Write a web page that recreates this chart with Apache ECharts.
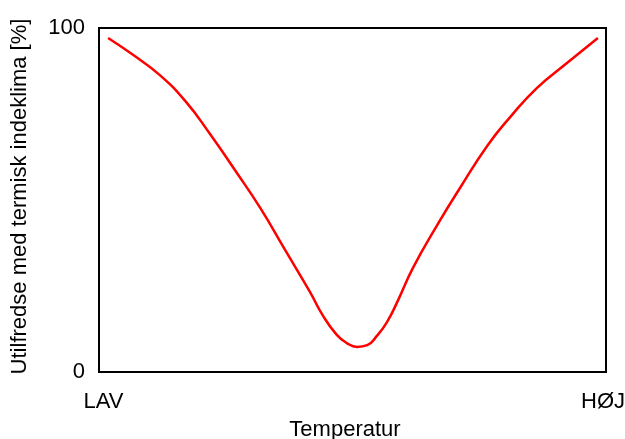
<!DOCTYPE html>
<html>
<head>
<meta charset="utf-8">
<script src="https://cdn.jsdelivr.net/npm/echarts@6/dist/echarts.min.js"></script>
<style>
  html, body { margin: 0; padding: 0; background: #fff; }
  #chart { width: 625px; height: 439px; }
</style>
</head>
<body>
<div id="chart"></div>
<script>
// temperatur (0 = LAV, 100 = HØJ)
const temperatur = [1.8, 6.7, 12.0, 17.0, 21.9, 26.8, 31.8, 36.7, 41.6, 44.2, 46.9, 48.9, 50.9,
  52.9, 54.8, 56.8, 59.0, 61.9, 66.7, 71.2, 76.7, 81.1, 86.4, 92.3, 98.4];
// utilfredse [%]
const utilfredse = [97.1, 92.2, 86.3, 78.8, 69.2, 58.7, 47.7, 35.5, 23.3, 16.3, 10.8, 8.4, 7.3,
  7.8, 10.5, 14.5, 20.9, 30.2, 42.7, 53.5, 66.0, 74.1, 82.6, 89.8, 97.1];
const xTickLabels = { 0: "{lav|LAV}", 100: "{hoj|HØJ}" };
const yTicks = [0, 100];

const font = "'Liberation Sans', Arial, sans-serif";
const myChart = echarts.init(document.getElementById("chart"));

const option = {
  animation: false,
  grid: {
    show: true,
    left: 99,
    right: 19,
    top: 28,
    bottom: 67,
    outerBoundsMode: "none",
    borderColor: "#000",
    borderWidth: 2,
    backgroundColor: "transparent",
  },
  xAxis: {
    type: "value",
    min: 0,
    max: 100,
    interval: 100,
    name: "Temperatur",
    nameLocation: "middle",
    nameGap: 47,
    nameTextStyle: { fontFamily: font, fontSize: 22, color: "#000", padding: [0, 15, 0, 0] },
    axisLine: { show: false },
    axisTick: { show: false },
    splitLine: { show: false },
    axisLabel: {
      margin: 19,
      fontFamily: font,
      fontSize: 22,
      color: "#000",
      formatter: (v) => xTickLabels[v] || "",
      rich: {
        lav: { fontFamily: font, fontSize: 22, color: "#000", padding: [0, 0, 0, 9] },
        hoj: { fontFamily: font, fontSize: 22, color: "#000", padding: [0, 6, 0, 0] },
      },
    },
  },
  yAxis: {
    type: "value",
    min: yTicks[0],
    max: yTicks[1],
    interval: 100,
    name: "Utilfredse med termisk indeklima [%]",
    nameLocation: "middle",
    nameGap: 68,
    nameTextStyle: { fontFamily: font, fontSize: 22, color: "#000", padding: [0, 0, 0, 7] },
    axisLine: { show: false },
    axisTick: { show: false },
    splitLine: { show: false },
    axisLabel: {
      margin: 14,
      fontFamily: font,
      fontSize: 22,
      color: "#000",
    },
  },
  series: [
    {
      type: "line",
      data: temperatur.map((t, i) => [t, utilfredse[i]]),
      smooth: 0.5,
      showSymbol: false,
      lineStyle: { color: "#ff0000", width: 2.5 },
    },
  ],
};
myChart.setOption(option);
</script>
</body>
</html>
